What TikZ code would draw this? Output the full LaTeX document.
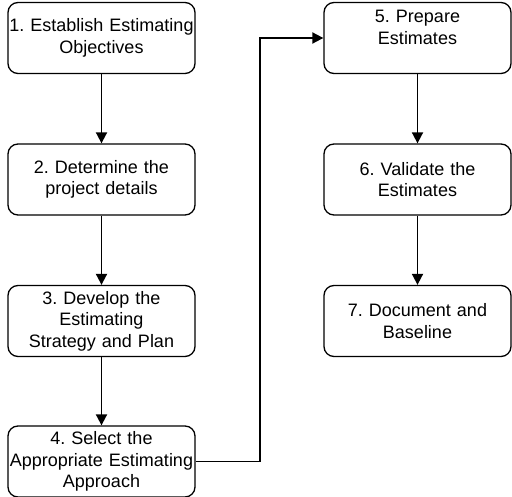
\documentclass[tikz,border=0pt]{standalone}
\usepackage{fontspec}
\setmainfont{Liberation Sans}
\usetikzlibrary{arrows.meta}
\frenchspacing
\begin{document}
\begin{tikzpicture}[x=1pt,y=-1pt,
	box/.style={draw,line width=1.3pt,rounded corners=10pt,minimum width=187pt,minimum height=71pt,
		text width=187pt,align=center,inner sep=0pt,font=\fontsize{18pt}{21.6pt}\selectfont},
	arr/.style={line width=1.8pt,-{Triangle[width=11pt,length=11pt]}}]
				\useasboundingbox (0,0) rectangle (512,497);
				% left column
				\node[box] (s1) at (101.5,38){1. Establish Estimating\\Objectives};
				\node[box] (s2) at (101.5,179.5){2. Determine the\\project details};
				\node[box] (s3) at (101.5,321){3. Develop the\\Estimating\\Strategy and Plan};
				\node[box] (s4) at (101.5,461.5){4. Select the\\Appropriate Estimating\\Approach};
				% right column
				\node[box] (s5) at (417.5,38){5. Prepare\\Estimates\\\mbox{}};
				\node[box] (s6) at (417.5,179.5){6. Validate the\\Estimates};
				\node[box] (s7) at (417.5,321){7. Document and\\Baseline};
				\draw[arr] (s1)--(s2);
				\draw[arr] (s2)--(s3);
				\draw[arr] (s3)--(s4);
				\draw[arr] (s4.east)-|(260,38)--(s5.west);
				\draw[arr] (s5)--(s6);
				\draw[arr] (s6)--(s7);
\end{tikzpicture}
\end{document}
